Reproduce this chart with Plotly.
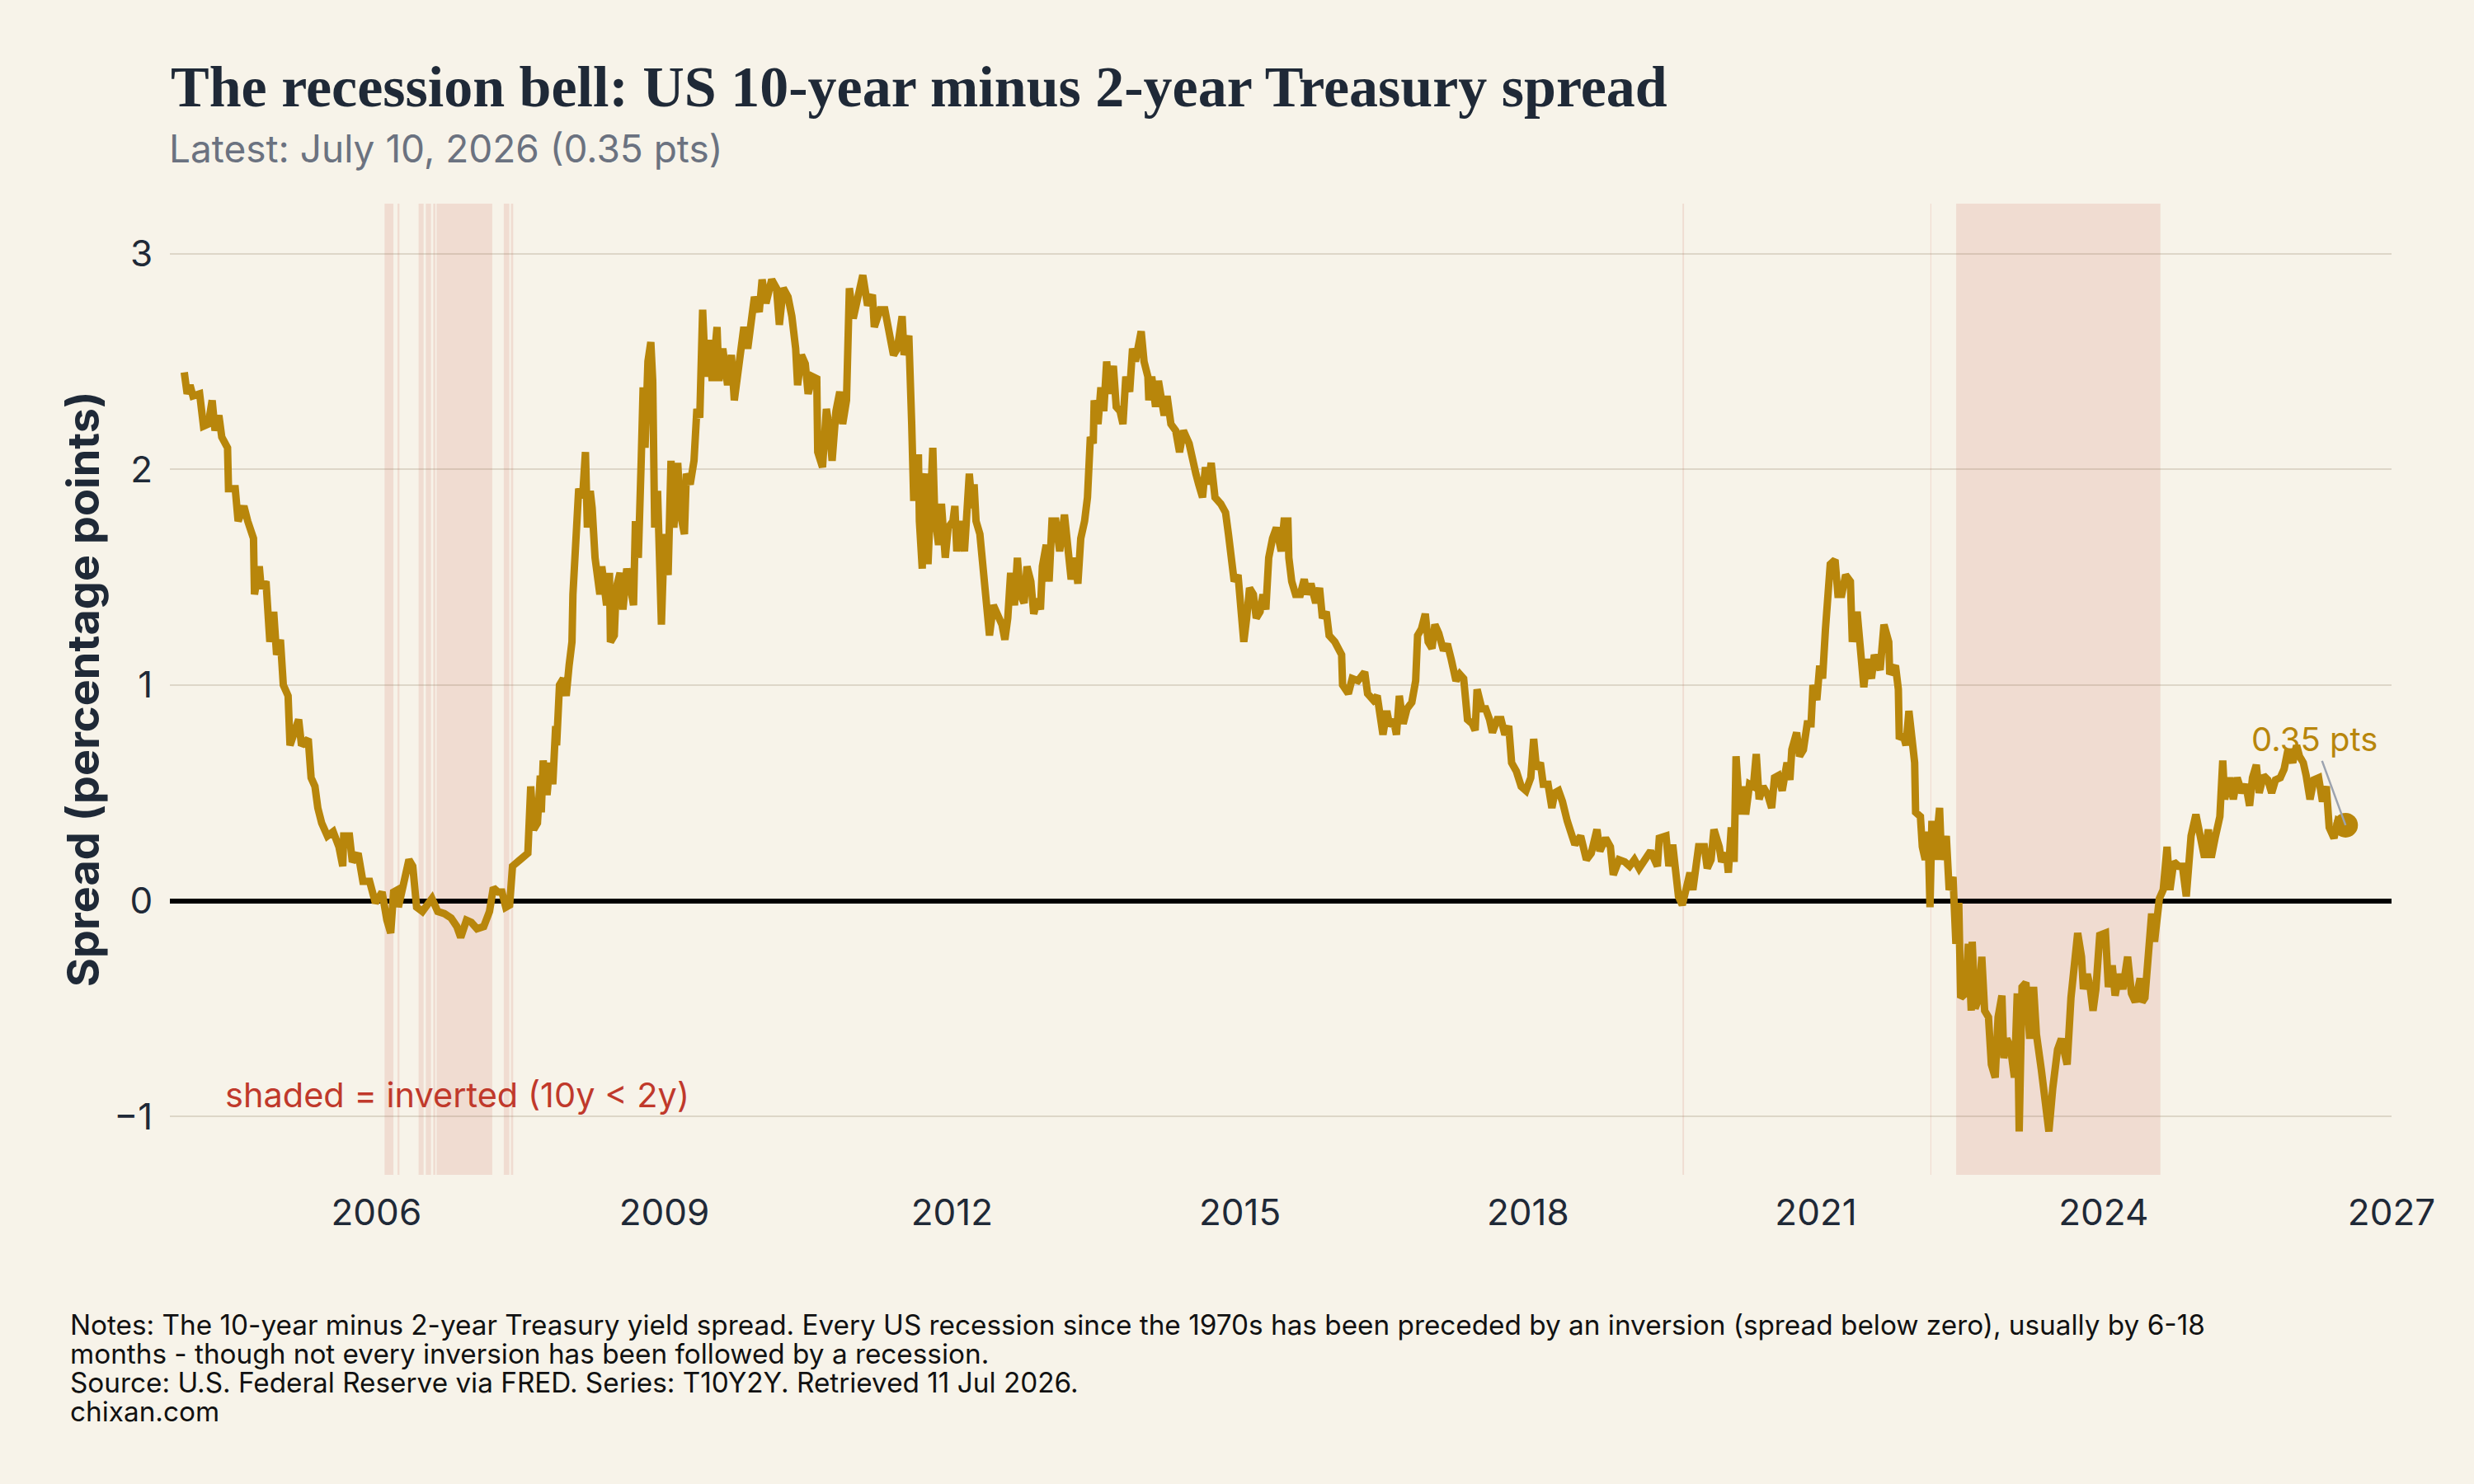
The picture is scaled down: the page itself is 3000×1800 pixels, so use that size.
import pandas as pd
import plotly.graph_objects as go

# ---------------- data ----------------
YEAR_DEC = [
 2004.00,2004.03,2004.06,2004.09,2004.16,2004.20,2004.25,2004.29,2004.32,2004.36,2004.39,2004.45,2004.46,2004.53,2004.56,
 2004.62,2004.66,2004.72,2004.73,2004.78,2004.80,2004.85,2004.89,2004.93,2004.96,2005.00,2005.03,2005.08,2005.10,2005.15,
 2005.19,2005.22,2005.29,2005.32,2005.36,2005.39,2005.43,2005.49,2005.55,2005.61,2005.65,2005.66,2005.72,2005.75,2005.81,
 2005.86,2005.93,2005.99,2006.06,2006.11,2006.15,2006.18,2006.22,2006.23,2006.28,2006.34,2006.38,2006.42,2006.48,2006.52,
 2006.58,2006.64,2006.71,2006.78,2006.84,2006.88,2006.94,2006.99,2007.05,2007.12,2007.18,2007.22,2007.27,2007.31,2007.35,
 2007.39,2007.42,2007.50,2007.58,2007.61,2007.64,
 2007.68,2007.71,2007.72,2007.74,2007.78,2007.81,2007.84,2007.87,2007.88,2007.91,2007.95,2007.98,2008.01,2008.04,2008.05,
 2008.10,2008.11,2008.15,2008.18,2008.20,2008.23,2008.25,2008.28,2008.33,2008.35,2008.40,2008.43,2008.44,2008.48,2008.50,
 2008.54,2008.57,2008.61,2008.65,2008.68,2008.70,2008.73,2008.76,2008.78,2008.80,2008.83,2008.86,2008.88,2008.90,2008.93,
 2008.97,2009.00,2009.04,2009.07,2009.10,2009.14,2009.17,2009.21,2009.23,2009.27,2009.31,2009.34,2009.37,2009.40,2009.43,
 2009.46,2009.50,2009.55,2009.57,2009.61,2009.66,2009.70,2009.73,2009.79,2009.83,2009.87,2009.91,2009.94,2009.99,2010.02,
 2010.06,2010.12,2010.17,2010.20,2010.24,2010.29,2010.33,2010.37,2010.39,2010.43,2010.47,2010.50,2010.545,2010.59,2010.60,
 2010.65,2010.69,2010.72,2010.75,2010.79,2010.83,2010.86,2010.90,2010.93,2010.97,2011.02,2011.07,2011.12,2011.17,2011.19,
 2011.25,2011.30,2011.35,2011.39,2011.43,2011.48,2011.50,2011.55,2011.58,2011.60,
 2011.62,2011.65,2011.66,2011.69,2011.70,2011.73,2011.75,2011.78,2011.80,2011.82,2011.86,2011.89,2011.93,2011.96,2012.01,
 2012.03,2012.05,2012.09,2012.13,2012.18,2012.21,2012.23,2012.25,2012.29,2012.32,2012.35,2012.39,2012.43,2012.48,2012.52,
 2012.55,2012.58,2012.61,2012.65,2012.68,2012.71,2012.75,2012.78,2012.82,2012.85,2012.89,2012.92,2012.94,2012.98,2013.01,
 2013.04,2013.08,2013.12,2013.17,2013.21,2013.24,2013.28,2013.31,2013.34,2013.38,2013.41,2013.44,2013.47,2013.48,2013.52,
 2013.55,2013.58,2013.61,2013.64,2013.68,2013.71,2013.75,2013.78,2013.81,2013.85,2013.88,2013.91,2013.94,2013.97,2014.00,
 2014.04,2014.05,2014.08,2014.12,2014.15,2014.21,2014.24,2014.28,2014.33,2014.37,2014.41,2014.47,2014.50,2014.54,2014.57,
 2014.61,2014.64,2014.67,2014.70,2014.74,2014.80,2014.85,2014.88,2014.91,2014.94,2014.98,2015.01,2015.04,2015.07,2015.10,
 2015.14,2015.17,2015.21,2015.24,2015.27,2015.30,2015.34,2015.38,
 2015.43,2015.46,2015.50,2015.51,2015.54,2015.58,2015.63,2015.67,2015.70,2015.74,2015.79,2015.83,2015.86,2015.90,2015.93,
 2015.99,2016.06,2016.07,2016.13,2016.17,2016.23,2016.30,2016.33,2016.39,2016.43,2016.46,2016.49,2016.53,2016.56,2016.60,
 2016.63,2016.66,2016.70,2016.74,2016.79,2016.83,2016.85,2016.89,2016.93,2016.96,2017.00,2017.03,2017.07,2017.12,2017.16,
 2017.20,2017.25,2017.29,2017.33,2017.37,2017.42,2017.45,2017.47,2017.52,2017.56,2017.60,2017.63,2017.68,2017.72,2017.76,
 2017.80,2017.83,2017.88,2017.93,2017.98,2018.03,2018.06,2018.09,2018.13,2018.16,2018.21,2018.25,2018.28,2018.32,2018.36,
 2018.41,2018.45,2018.49,2018.55,2018.61,2018.66,2018.72,2018.75,2018.81,2018.86,2018.89,2018.95,2019.01,2019.06,2019.11,
 2019.16,
 2019.21,2019.28,2019.35,2019.37,2019.44,2019.47,2019.51,2019.54,2019.57,2019.61,2019.65,2019.69,2019.72,2019.78,2019.84,
 2019.87,2019.91,2019.94,2019.995,2020.02,2020.07,2020.09,2020.12,2020.15,2020.17,2020.21,2020.24,2020.27,2020.31,2020.35,
 2020.38,2020.41,2020.45,2020.50,2020.54,2020.57,2020.61,2020.65,2020.70,2020.73,2020.75,2020.80,2020.83,2020.87,2020.91,
 2020.95,2020.97,2021.01,2021.04,2021.07,2021.10,2021.13,2021.15,2021.20,2021.23,2021.27,2021.31,2021.36,2021.38,2021.43,
 2021.46,2021.50,2021.53,2021.58,2021.61,2021.67,2021.71,2021.76,2021.77,2021.83,2021.86,2021.87,2021.91,2021.94,2021.97,
 2022.00,2022.03,2022.04,2022.09,2022.11,2022.14,2022.17,2022.19,2022.21,2022.24,2022.29,2022.31,2022.36,2022.39,2022.43,
 2022.46,2022.49,2022.51,2022.56,2022.59,2022.62,2022.63,2022.66,2022.70,2022.73,2022.76,2022.80,2022.83,2022.87,2022.90,
 2022.94,
 2022.96,2022.99,2023.03,2023.07,2023.10,2023.12,2023.15,2023.19,2023.23,2023.27,2023.30,2023.35,2023.39,2023.43,2023.47,
 2023.52,2023.56,2023.62,2023.66,2023.70,2023.73,2023.77,2023.79,2023.83,2023.86,2023.89,2023.92,2023.96,2024.02,2024.05,
 2024.09,2024.12,2024.16,2024.20,2024.25,2024.29,2024.33,2024.38,2024.40,2024.43,2024.46,2024.50,2024.53,2024.58,2024.62,
 2024.66,2024.69,2024.73,2024.78,2024.82,2024.86,2024.91,2024.96,2025.01,2025.05,2025.09,2025.12,2025.16,2025.21,2025.24,
 2025.26,2025.31,2025.35,2025.39,2025.44,2025.48,2025.52,2025.55,2025.59,2025.62,2025.665,2025.71,2025.75,2025.79,2025.84,
 2025.88,2025.92,2025.97,2026.01,2026.04,2026.08,2026.11,2026.15,2026.19,2026.24,2026.28,2026.32,2026.35,2026.40,2026.44,
]

SPREAD = [
 2.45,2.35,2.39,2.34,2.35,2.20,2.21,2.32,2.18,2.25,2.15,2.10,1.91,1.91,1.76,
 1.83,1.76,1.68,1.42,1.55,1.45,1.48,1.20,1.34,1.14,1.21,1.00,0.95,0.72,0.78,
 0.84,0.72,0.75,0.57,0.53,0.43,0.36,0.30,0.32,0.25,0.16,0.30,0.30,0.18,0.22,
 0.09,0.09,-0.01,0.04,-0.09,-0.15,0.04,0.05,-0.03,0.09,0.19,0.16,-0.03,-0.05,-0.03,
 0.01,-0.05,-0.06,-0.08,-0.12,-0.17,-0.09,-0.10,-0.13,-0.12,-0.05,0.06,0.04,0.04,-0.03,
 -0.02,0.16,0.19,0.22,0.53,0.33,
 0.36,0.58,0.41,0.65,0.49,0.64,0.54,0.81,0.72,1.00,1.03,0.95,1.09,1.20,1.42,
 1.76,1.91,1.87,2.08,1.73,1.90,1.82,1.59,1.42,1.55,1.37,1.52,1.20,1.23,1.45,
 1.52,1.35,1.54,1.45,1.37,1.76,1.59,2.04,2.38,2.10,2.50,2.59,2.41,1.73,1.90,
 1.28,1.70,1.51,2.04,1.73,2.03,1.79,1.70,1.98,1.93,2.04,2.28,2.24,2.74,2.43,
 2.60,2.41,2.66,2.41,2.56,2.39,2.53,2.32,2.52,2.66,2.56,2.71,2.80,2.73,2.88,
 2.77,2.88,2.84,2.67,2.84,2.80,2.71,2.56,2.39,2.53,2.49,2.35,2.43,2.42,2.08,
 2.01,2.28,2.20,2.04,2.27,2.36,2.21,2.32,2.84,2.70,2.81,2.90,2.76,2.81,2.66,
 2.74,2.74,2.60,2.53,2.56,2.71,2.53,2.62,2.21,1.87,
 1.87,2.07,1.76,1.54,1.90,1.98,1.56,1.96,2.10,1.79,1.65,1.84,1.59,1.73,1.76,
 1.83,1.62,1.76,1.62,1.98,1.82,1.93,1.76,1.70,1.54,1.40,1.23,1.37,1.31,1.28,
 1.21,1.31,1.52,1.37,1.59,1.42,1.38,1.55,1.48,1.33,1.40,1.35,1.55,1.65,1.48,
 1.76,1.76,1.62,1.79,1.62,1.49,1.59,1.47,1.68,1.76,1.87,2.15,2.12,2.32,2.21,
 2.38,2.27,2.50,2.35,2.48,2.29,2.27,2.21,2.43,2.36,2.56,2.50,2.60,2.64,2.50,
 2.43,2.32,2.43,2.29,2.41,2.25,2.34,2.21,2.18,2.08,2.18,2.12,2.04,1.98,1.93,
 1.87,2.01,1.93,2.03,1.87,1.84,1.80,1.70,1.55,1.48,1.51,1.37,1.20,1.31,1.45,
 1.42,1.31,1.34,1.42,1.35,1.59,1.68,1.73,
 1.62,1.76,1.76,1.59,1.48,1.42,1.42,1.49,1.42,1.47,1.38,1.45,1.31,1.34,1.23,
 1.20,1.14,1.00,0.96,1.03,1.02,1.06,0.96,0.93,0.95,0.86,0.77,0.88,0.81,0.84,
 0.77,0.95,0.82,0.89,0.92,1.02,1.23,1.26,1.33,1.20,1.17,1.28,1.24,1.16,1.19,
 1.12,1.02,1.05,1.03,0.84,0.82,0.79,0.98,0.89,0.89,0.84,0.78,0.84,0.84,0.77,
 0.81,0.64,0.60,0.53,0.51,0.57,0.75,0.61,0.64,0.54,0.54,0.43,0.50,0.51,0.46,
 0.37,0.32,0.26,0.30,0.19,0.22,0.33,0.23,0.29,0.25,0.12,0.19,0.18,0.16,0.19,
 0.15,
 0.18,0.23,0.16,0.29,0.30,0.16,0.26,0.13,0.02,-0.02,0.05,0.13,0.05,0.25,0.25,
 0.15,0.19,0.33,0.25,0.18,0.22,0.13,0.34,0.18,0.67,0.40,0.53,0.40,0.54,0.53,
 0.68,0.47,0.53,0.49,0.43,0.57,0.58,0.51,0.64,0.56,0.70,0.78,0.67,0.70,0.82,
 0.82,1.00,0.93,1.09,1.03,1.26,1.40,1.56,1.58,1.42,1.42,1.51,1.48,1.20,1.34,
 1.14,0.99,1.12,1.03,1.14,1.07,1.28,1.20,1.05,1.09,0.98,0.75,0.77,0.72,0.88,
 0.78,0.64,0.41,0.39,0.25,0.19,0.32,-0.03,0.37,0.19,0.43,0.19,0.30,0.05,0.11,
 -0.20,-0.01,-0.45,-0.43,-0.20,-0.51,-0.19,-0.50,-0.45,-0.26,-0.51,-0.54,-0.76,-0.82,-0.54,
 -0.44,
 -0.73,-0.64,-0.68,-0.82,-0.43,-1.07,-0.40,-0.38,-0.64,-0.40,-0.62,-0.78,-0.92,-1.07,-0.87,
 -0.69,-0.64,-0.76,-0.45,-0.30,-0.15,-0.26,-0.41,-0.34,-0.40,-0.51,-0.41,-0.16,-0.15,-0.40,
 -0.30,-0.44,-0.34,-0.41,-0.26,-0.43,-0.47,-0.36,-0.47,-0.45,-0.22,-0.06,-0.19,0.01,0.05,
 0.25,0.05,0.18,0.16,0.16,0.02,0.30,0.40,0.27,0.20,0.33,0.20,0.29,0.39,0.65,
 0.47,0.57,0.47,0.57,0.50,0.54,0.44,0.57,0.63,0.50,0.58,0.56,0.50,0.56,0.57,
 0.61,0.70,0.64,0.72,0.67,0.64,0.58,0.47,0.56,0.57,0.46,0.53,0.34,0.29,0.37,
]

LATEST_DATE = "2026-07-10"
LATEST_VALUE = 0.35

# periods when the spread was inverted (shaded), as decimal years
INVERTED_PERIODS = [
 (2006.086, 2006.178), (2006.221, 2006.241), (2006.441, 2006.493), (2006.516, 2006.570),
 (2006.593, 2006.616), (2006.628, 2007.209), (2007.329, 2007.386), (2007.404, 2007.427),
 (2019.612, 2019.628), (2022.194, 2022.204), (2022.463, 2024.591),
]

Y_TICKS = [-1, 0, 1, 2, 3]

TITLE = "The recession bell: US 10-year minus 2-year Treasury spread"
SUBTITLE = "Latest: July 10, 2026 (0.35 pts)"
Y_TITLE = "Spread (percentage points)"
SHADE_NOTE = "shaded = inverted (10y < 2y)"
NOTES = [
 "Notes: The 10-year minus 2-year Treasury yield spread. Every US recession since the 1970s has been preceded by an inversion (spread below zero), usually by 6-18",
 "months - though not every inversion has been followed by a recession.",
 "Source: U.S. Federal Reserve via FRED. Series: T10Y2Y. Retrieved 11 Jul 2026.",
 "chixan.com",
]


def dec_to_ts(y):
    yr = int(y)
    start = pd.Timestamp(yr, 1, 1)
    end = pd.Timestamp(yr + 1, 1, 1)
    return start + (end - start) * (y - yr)


dates = [dec_to_ts(v) for v in YEAR_DEC] + [pd.Timestamp(LATEST_DATE)]
values = SPREAD + [LATEST_VALUE]

BG = "#f7f3e9"
GOLD = "#b8860b"
INK = "#1f2937"
FONT = "Inter"

fig = go.Figure()

fig.add_trace(go.Scatter(
    x=dates, y=values, mode="lines",
    line=dict(color=GOLD, width=9),
    hoverinfo="skip", showlegend=False,
))
fig.add_trace(go.Scatter(
    x=[pd.Timestamp(LATEST_DATE)], y=[LATEST_VALUE], mode="markers",
    marker=dict(color=GOLD, size=30),
    hoverinfo="skip", showlegend=False,
))

shapes = []
for a, b in INVERTED_PERIODS:
    shapes.append(dict(
        type="rect", xref="x", yref="paper",
        x0=dec_to_ts(a), x1=dec_to_ts(b), y0=0, y1=1,
        fillcolor="rgba(192,57,43,0.12)", line=dict(width=0), layer="below",
    ))

annotations = [
    dict(text=SUBTITLE, xref="paper", yref="paper", x=-0.001, y=1.057,
         xanchor="left", yanchor="middle", showarrow=False,
         font=dict(family=FONT, size=46, color="#6b7280")),
    dict(text=SHADE_NOTE, xref="x", yref="y", x=dec_to_ts(2004.41), y=-0.9,
         xanchor="left", yanchor="middle", showarrow=False,
         font=dict(family=FONT, size=41.5, color="#c0392b")),
    dict(text=f"{LATEST_VALUE:.2f} pts", xref="x", yref="y",
         x=pd.Timestamp(LATEST_DATE), y=LATEST_VALUE,
         ax=-38, ay=-104, showarrow=True, arrowhead=0, arrowwidth=2.5,
         arrowcolor="#9ca3af",
         font=dict(family=FONT, size=40, color=GOLD)),
]
note_y = [-0.1545, -0.1842, -0.2139, -0.2436]
for txt, yy in zip(NOTES, note_y):
    annotations.append(dict(
        text=txt, xref="paper", yref="paper", x=-0.0455, y=yy,
        xanchor="left", yanchor="middle", showarrow=False,
        font=dict(family=FONT, size=33.3, color="#111111")))

fig.update_layout(
    width=3000, height=1800,
    paper_bgcolor=BG, plot_bgcolor=BG,
    margin=dict(l=206, r=100, t=247, b=375),
    title=dict(text=f"<b>{TITLE}</b>", x=0.069, xanchor="left",
               y=1 - 104 / 1800, yanchor="middle",
               font=dict(family="Liberation Serif", size=70, color=INK)),
    shapes=shapes,
    annotations=annotations,
    showlegend=False,
    xaxis=dict(
        type="date",
        range=[dec_to_ts(2003.85), pd.Timestamp("2027-01-01")],
        tick0="2006-01-01", dtick="M36", tickformat="%Y",
        showgrid=False, zeroline=False, showline=False,
        ticks="outside", ticklen=7, tickcolor="rgba(0,0,0,0)",
        tickfont=dict(family=FONT, size=44, color=INK),
    ),
    yaxis=dict(
        range=[-1.271, 3.232],
        tickvals=Y_TICKS,
        showgrid=True, gridcolor="rgba(120,100,70,0.2)", gridwidth=2,
        zeroline=True, zerolinecolor="#000000", zerolinewidth=6,
        showline=False,
        ticks="outside", ticklen=11, tickcolor="rgba(0,0,0,0)",
        tickfont=dict(family=FONT, size=44, color=INK),
        title=dict(text=f"<b>{Y_TITLE}</b>", standoff=0,
                   font=dict(family=FONT, size=54, color=INK)),
    ),
)

fig.write_html("out.html")
